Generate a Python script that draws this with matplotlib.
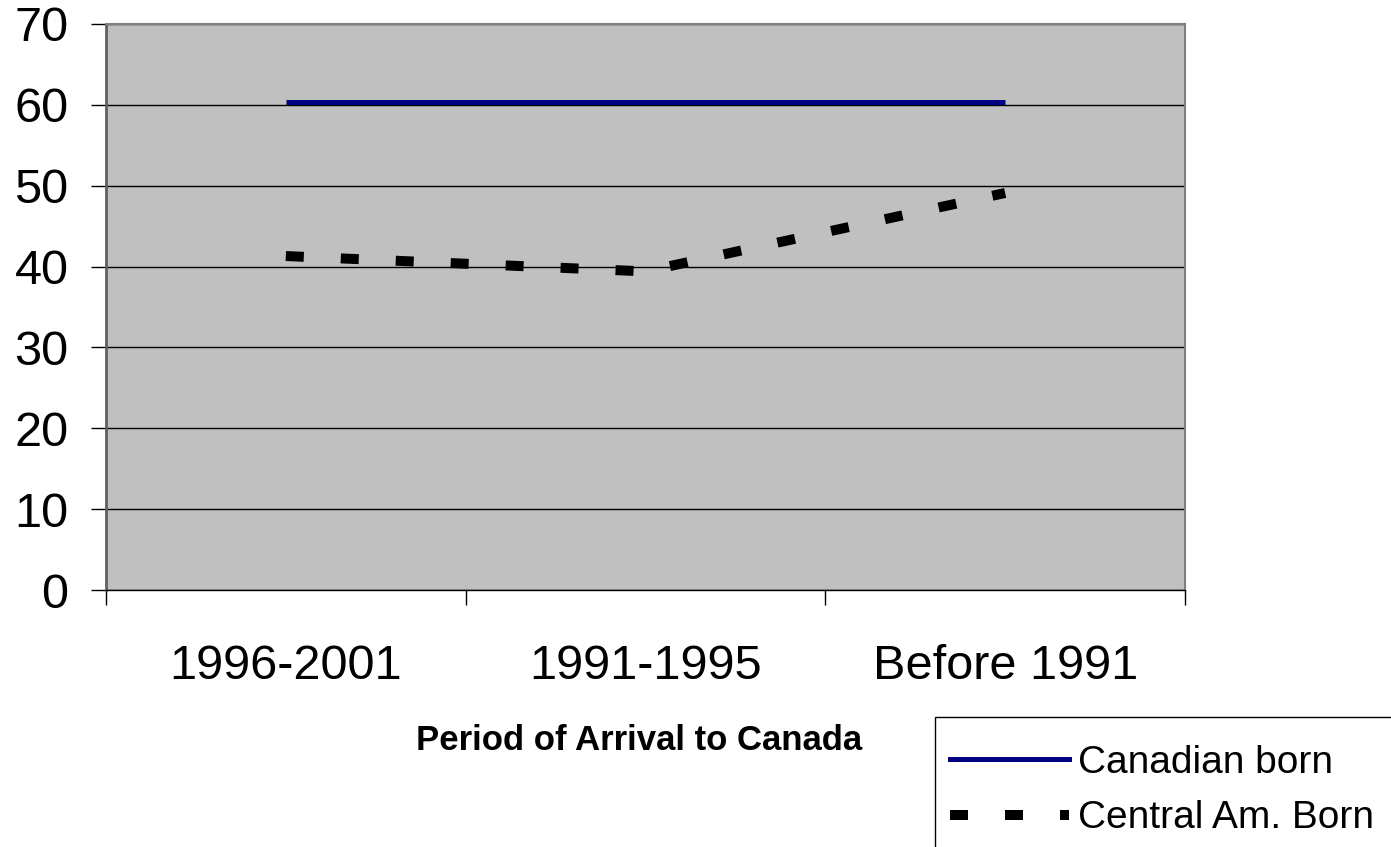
import numpy as np
import matplotlib.pyplot as plt
from matplotlib.patches import Rectangle
from matplotlib.lines import Line2D

plt.rcParams['font.family'] = ['Liberation Sans', 'DejaVu Sans']

periods = ['1996-2001', '1991-1995', 'Before 1991']
canadian_born = [60.4, 60.4, 60.4]
central_am_born = [41.3, 39.4, 49.1]
yticks = [0, 10, 20, 30, 40, 50, 60, 70]

fig = plt.figure(figsize=(13.91, 8.47), dpi=100)
ax = fig.add_axes([0.0762, 0.3034, 0.7757, 0.6683])
ax.set_facecolor('#c0c0c0')

x = np.arange(len(periods))

dash = (0, (1.8, 3.7))

ax.plot(x, canadian_born, color='#000080', lw=3.6, solid_capstyle='butt', zorder=3)
ax.plot(x, central_am_born, color='black', lw=7.2, ls=dash, dash_capstyle='butt',
        dash_joinstyle='round', zorder=3)

ax.set_xlim(-0.5, 2.5)
ax.set_ylim(0, 70)
ax.set_yticks(yticks)
ax.tick_params(axis='y', labelsize=35, length=11, width=1, pad=16, direction='out')
ax.yaxis.grid(True, color='black', lw=1)
ax.set_axisbelow(True)

ax.set_xticks(x)
ax.set_xticklabels(periods)
ax.tick_params(axis='x', which='major', labelsize=35, length=0, pad=39)
ax.set_xticks([-0.5, 0.5, 1.5, 2.5], minor=True)
ax.tick_params(axis='x', which='minor', length=11, width=1, direction='out')

for s in ['top', 'right']:
    ax.spines[s].set_color('#808080')
    ax.spines[s].set_linewidth(1.5)
ax.spines['left'].set_color('#606060')
ax.spines['left'].set_linewidth(2)
ax.spines['bottom'].set_color('black')
ax.spines['bottom'].set_linewidth(1)

ax.set_xlabel('Period of Arrival to Canada', fontsize=25, fontweight='bold', labelpad=25)
ax.xaxis.label.set_x(0.494)

# legend box runs off the bottom/right edge of the figure like the original
fig.patches.append(Rectangle((935 / 1391, -0.1), 1, (847 - 717) / 847 + 0.1,
                             transform=fig.transFigure, facecolor='white',
                             edgecolor='black', lw=1, zorder=1))

handles = [Line2D([], [], color='#000080', lw=3.6),
           Line2D([], [], color='black', lw=7.2, ls=dash, dash_capstyle='butt')]
leg = fig.legend(handles, ['Canadian born', 'Central Am. Born'],
                 loc='upper left', bbox_to_anchor=(950 / 1391, 1 - 745 / 847),
                 fontsize=28, frameon=False, handlelength=3.05, handletextpad=0.25,
                 borderpad=0, labelspacing=0.5, borderaxespad=0)
leg.set_zorder(2)

fig.savefig('out.png', dpi=100)
